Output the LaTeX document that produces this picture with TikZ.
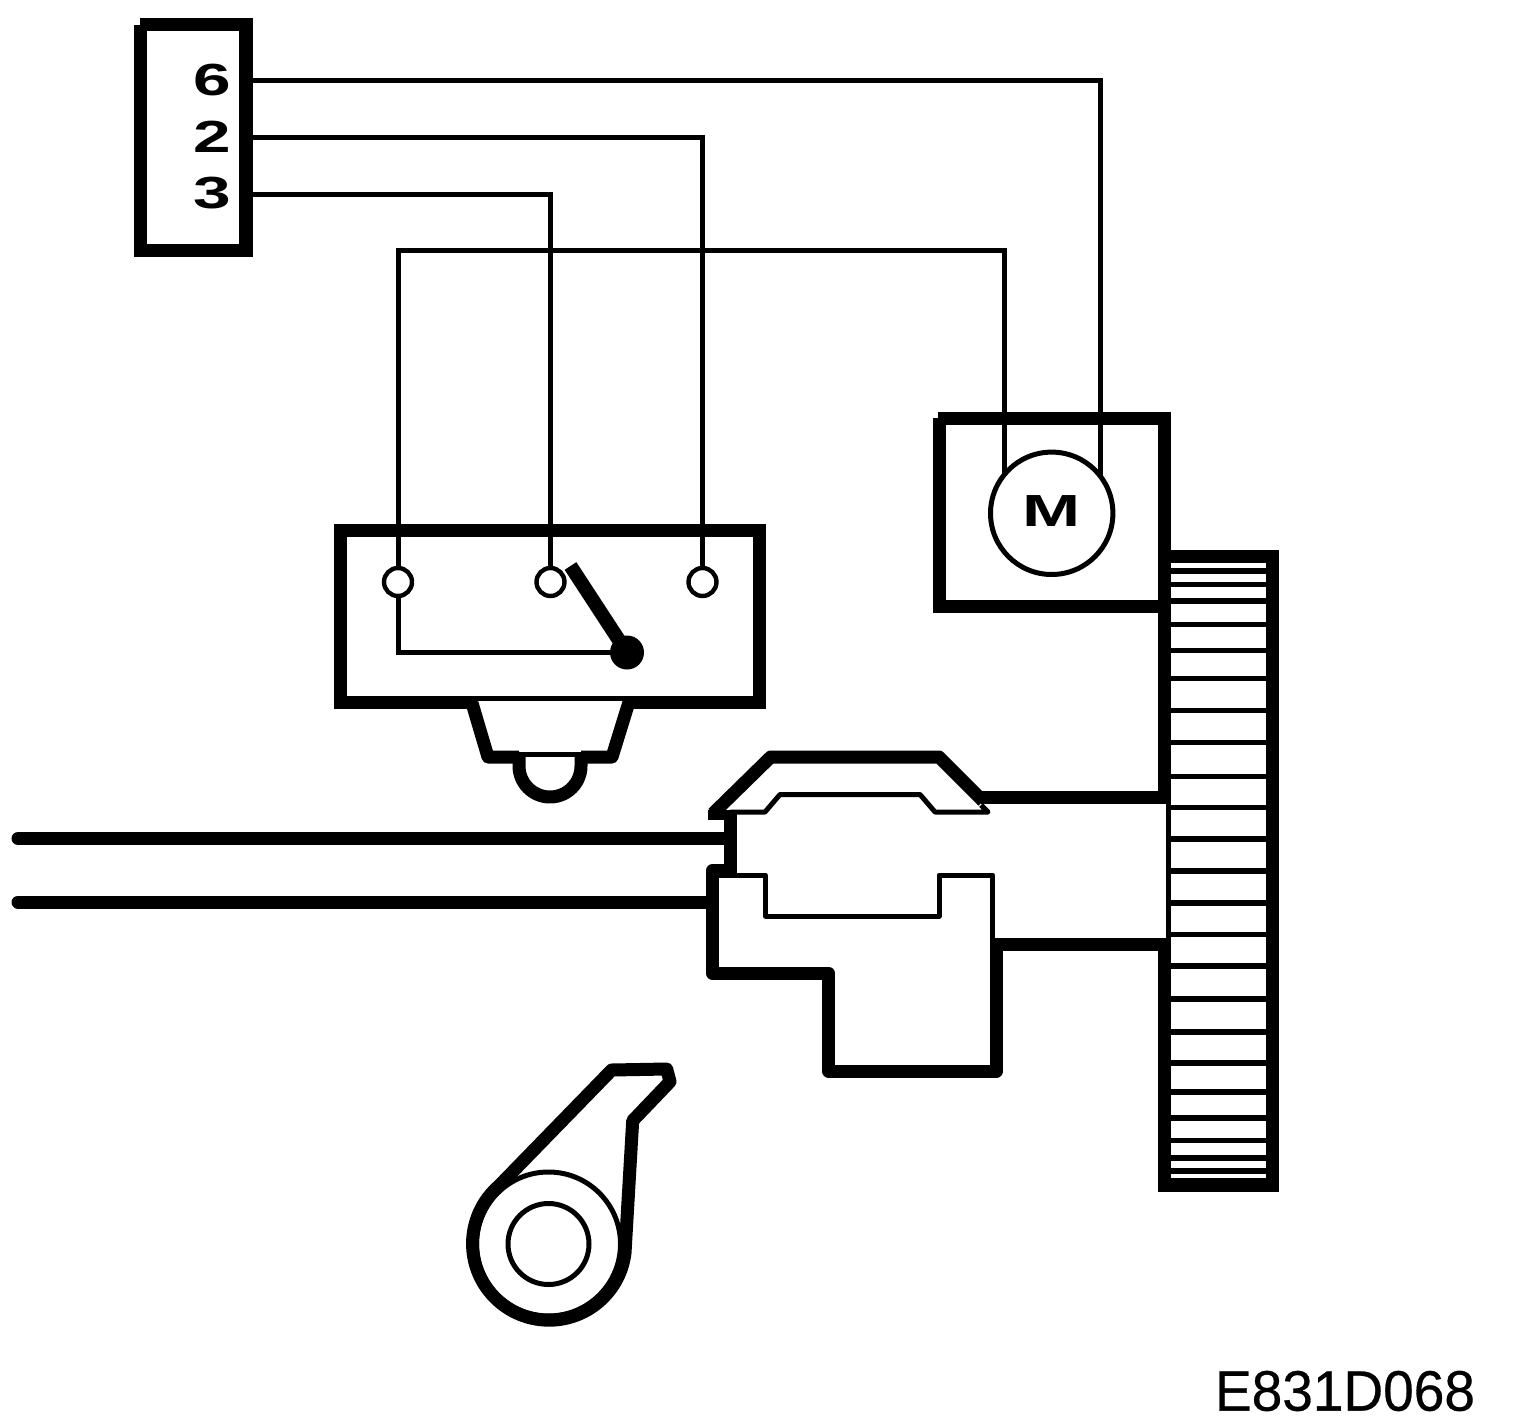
\documentclass[tikz,border=0pt]{standalone}
\usepackage{fontspec}
\setmainfont{Liberation Sans}
\newfontfamily\codefont[FakeBold=0.5]{Liberation Sans}
\tikzset{
  px/.style={x=0.5pt,y=-0.5pt},
  heavy/.style={line width=6.5pt,line join=round},
  wire/.style={line width=2.5pt,line join=miter},
  solid bar/.style={fill=black,draw=none},
  term/.style={circle,draw,line width=2.2pt,minimum size=14pt,inner sep=0pt,outer sep=0pt,fill=white},
  pivot/.style={circle,fill=black,minimum size=17pt,inner sep=0pt,outer sep=0pt},
  ring/.style={circle,draw,line width=2.5pt,inner sep=0pt,outer sep=0pt},
  pinlabel/.style={inner sep=0pt,font=\bfseries\fontsize{22.5pt}{22.5pt}\selectfont},
  tooth/.style={line width=2.8pt}
}
\begin{document}
\begin{tikzpicture}[px]
\useasboundingbox (0,0) rectangle (1520,1428);
% connector block
\fill[solid bar] (140,18) rectangle (253,31.5);
\fill[solid bar] (134,25) rectangle (147,257);
\fill[solid bar] (239,18) rectangle (253,257);
\fill[solid bar] (134,244) rectangle (253,257);
\node[pinlabel] (lab6) at (212.5,80.5) {\scalebox{1.5}[1]{6}};
\node[pinlabel] (lab2) at (212.5,137) {\scalebox{1.5}[1]{2}};
\node[pinlabel] (lab3) at (212.5,193) {\scalebox{1.5}[1]{3}};
\coordinate (pin6) at (252,81);
\coordinate (pin2) at (252,138);
\coordinate (pin3) at (252,194.5);
\coordinate (top) at (700,251);
% motor housing
\fill[solid bar] (938,412) rectangle (1171,425);
\fill[solid bar] (933,418) rectangle (946,612.5);
\fill[solid bar] (933,600) rectangle (1171,612.5);
\node[ring,minimum size=61.2pt] (motor) at (1051.7,513.3) {};
\node[inner sep=0pt,font=\bfseries\fontsize{22.5pt}{22.5pt}\selectfont] (mlab) at (1051.7,511.5) {\scalebox{1.55}[1]{M}};
% switch
\draw[line width=6.5pt] (340.5,530.5) rectangle (759.5,702.5);
\fill[white] (477.3,701) rectangle (622.7,710);
\node[term] (t1) at (398,582) {};
\node[term] (t2) at (550.5,582) {};
\node[term] (t3) at (702.5,582) {};
\node[pivot] (piv) at (627,652.5) {};
\coordinate (levertip) at (570.5,566);
\draw[line width=7pt] (piv.center) -- (levertip);
\draw[wire] (t1.south) |- (piv.center);
% wires
\draw[wire] (pin6) -| (motor.37.4);
\draw[wire] (pin2) -| (t3.north);
\draw[wire] (pin3) -| (t2.north);
\draw[wire] (t1.north) |- (top) -| (motor.141.2);
% plunger
\draw[heavy] (472,703) -- (488,757) -- (519,757);
\draw[heavy] (628.7,703) -- (612,757) -- (581,757);
\draw[wire] (519,754) -- (581,754);
\draw[heavy] (519,757) -- (519,766) arc[start angle=180,end angle=0,radius=31] -- (581,757);
% gear
\fill[solid bar] (1158.3,412) rectangle (1171,804);
\fill[solid bar] (1166,800) rectangle (1171,945);
\fill[solid bar] (1158.3,938) rectangle (1171,1192);
\fill[solid bar] (1158.3,1178) rectangle (1279,1192);
\fill[solid bar] (1171,550) rectangle (1279,563);
\fill[solid bar] (1266,550) rectangle (1279,1192);
\foreach \y in {571,584.5,601,624.5,650.5,678.5,710.5,742.5,776.5,807.5,839,871,903,934.3,966,999,1032,1063,1092,1118,1140.5,1158,1171}
  \draw[tooth] (1171,\y) -- (1266,\y);
% push rods
\draw[line width=6.5pt,line cap=round] (18,838.5) -- (726,838.5);
\draw[line width=6.5pt,line cap=round] (18,902) -- (708,902);
% slide housing
\draw[line width=6.5pt] (981,797.5) -- (1171,797.5);
\draw[line width=6.5pt] (993,944.5) -- (1171,944.5);
\draw[line width=6.5pt] (730.5,811) -- (730.5,873);
\fill[solid bar] (708,810) rectangle (737,820);
\draw[heavy] (713,813.5) -- (770.7,757) -- (939,757) -- (983,801);
\draw[wire,line join=round] (730,812) -- (765,812) -- (780,794.5) -- (920,794.5) -- (935,812) -- (988,812) -- (981,805);
\draw[heavy] (737,870.5) -- (712.5,870.5) -- (712.5,973.3) -- (828.7,973.3) -- (828.7,1071.3) -- (996.3,1071.3) -- (996.3,938);
\draw[wire,line join=round] (719,875) -- (765.3,875) -- (765.3,916) -- (939,916) -- (939,875) -- (992.7,875) -- (992.7,945);
% cam
\node[ring,minimum size=72pt] (disc) at (548.5,1244) {};
\node[ring,minimum size=40.5pt] (hub) at (548.5,1244) {};
\draw[heavy] (611.7,1070) -- (666.7,1069) -- (670,1081.7) -- (632.7,1120.7) -- (625,1253)
  arc[start angle=7,end angle=229,radius=76.5] -- cycle;
% code
\node[inner sep=0pt,font=\codefont\fontsize{28.5pt}{28.5pt}\selectfont] (code) at (1345,1391) {\scalebox{0.965}[1]{E831D068}};
\end{tikzpicture}
\end{document}
